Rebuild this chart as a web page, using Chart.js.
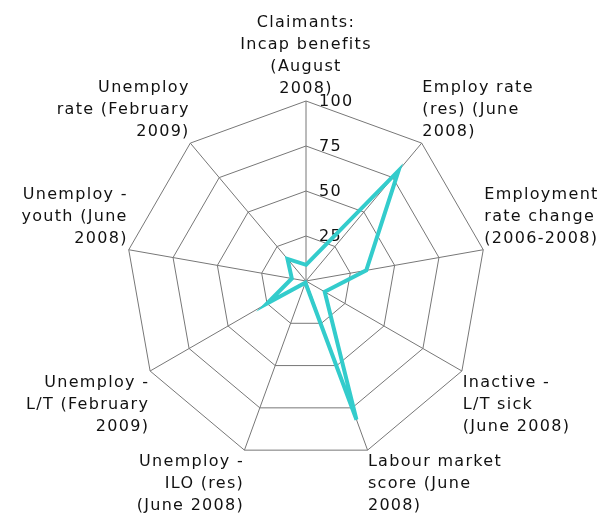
<!DOCTYPE html>
<html><head><meta charset="utf-8">
<script src="https://cdn.jsdelivr.net/npm/chart.js@4/dist/chart.umd.min.js"></script>
<style>html,body{margin:0;padding:0;background:#fff;overflow:hidden}#wrap{width:607px;height:517px;overflow:hidden;position:relative}#c{position:absolute;left:0;top:-5px}</style>
</head><body><div id="wrap"><canvas id="c" width="621" height="538"></canvas></div>
<script>
const categories = [
  ['Claimants:', 'Incap benefits', '(August', '2008)'],
  ['Employ rate', '(res) (June', '2008)'],
  ['Employment', 'rate change', '(2006-2008)'],
  ['Inactive -', 'L/T sick', '(June 2008)'],
  ['Labour market', 'score (June', '2008)'],
  ['Unemploy -', 'ILO (res)', '(June 2008)'],
  ['Unemploy -', 'L/T (February', '2009)'],
  ['Unemploy -', 'youth (June', '2008)'],
  ['Unemploy', 'rate (February', '2009)']
];
const seriesValues = [9, 80, 34, 12, 82, 1, 25, 8, 16];
const tickValues = [25, 50, 75, 100];
const tickLabels = ['25', '50', '75', '100'];

const FONT_FAMILY = 'DejaVu Sans';
const LETTER_SPACING = '1.3px';

const spacingPlugin = {
  id: 'spacing',
  beforeUpdate(chart) { chart.ctx.letterSpacing = LETTER_SPACING; },
  beforeLayout(chart) { chart.ctx.letterSpacing = LETTER_SPACING; },
  beforeDraw(chart) { chart.ctx.letterSpacing = LETTER_SPACING; }
};

const tickPlugin = {
  id: 'tickText',
  beforeDatasetsDraw(chart) {
    const s = chart.scales.r;
    const ctx = chart.ctx;
    ctx.save();
    ctx.letterSpacing = LETTER_SPACING;
    ctx.font = '16px "' + FONT_FAMILY + '"';
    ctx.fillStyle = '#111';
    ctx.textAlign = 'left';
    ctx.textBaseline = 'middle';
    tickValues.forEach((v, i) => {
      const d = s.getDistanceFromCenterForValue(v);
      ctx.fillText(tickLabels[i], s.xCenter + 13, s.yCenter - d + 1);
    });
    ctx.restore();
  }
};

new Chart(document.getElementById('c'), {
  type: 'radar',
  data: {
    labels: categories,
    datasets: [{
      data: seriesValues,
      borderColor: '#33CCCC',
      borderWidth: 4,
      fill: false,
      pointRadius: 0,
      pointHoverRadius: 0,
      tension: 0,
      borderJoinStyle: 'miter'
    }]
  },
  options: {
    responsive: false,
    animation: false,
    devicePixelRatio: 1,
    plugins: { legend: { display: false }, tooltip: { enabled: false } },
    scales: {
      r: {
        min: 0, max: 100,
        ticks: { stepSize: 25, display: false },
        grid: { color: '#777777', lineWidth: 1, circular: false },
        angleLines: { color: '#777777', lineWidth: 1 },
        pointLabels: {
          font: { family: FONT_FAMILY, size: 16, lineHeight: 1.375 },
          color: '#111',
          padding: 1
        }
      }
    }
  },
  plugins: [spacingPlugin, tickPlugin]
});
</script>
</body></html>
